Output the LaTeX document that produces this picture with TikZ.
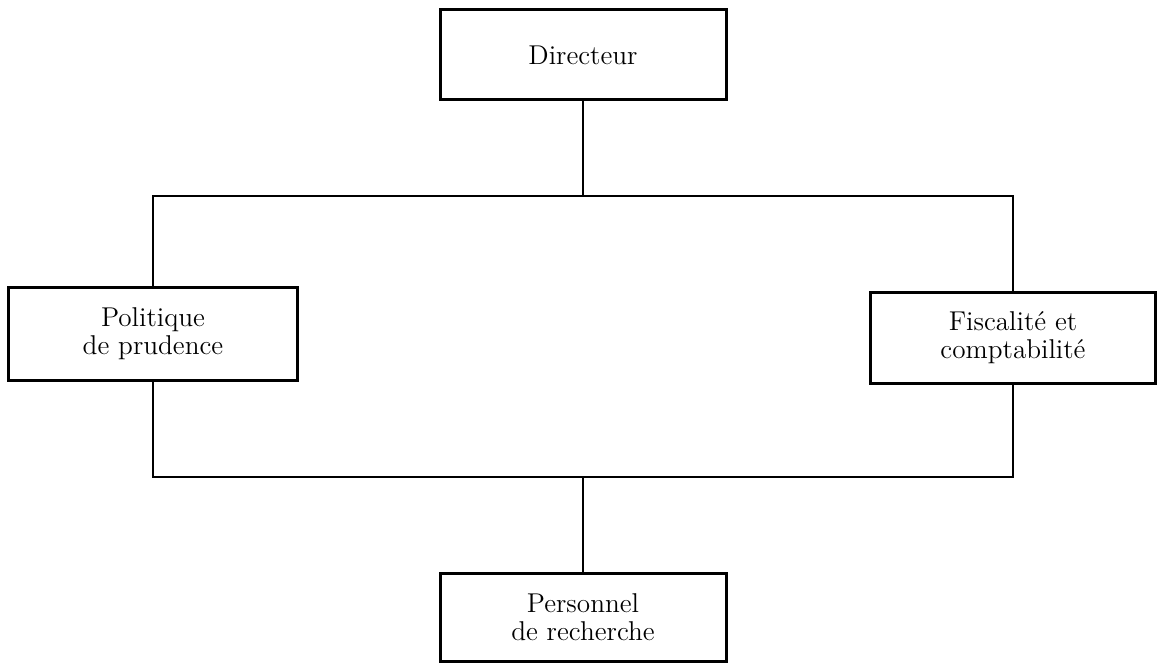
\documentclass[tikz,border=0pt]{standalone}
\begin{document}
\begin{tikzpicture}[x=0.5pt,y=-0.5pt,
  unit/.style={draw, line width=1.5pt, inner sep=0pt, align=center,
    font=\fontsize{13.6}{14}\selectfont},
  wire/.style={line width=1.4pt}]
  \useasboundingbox (0,0) rectangle (1162,663);
  % boxes
  \node[unit, minimum width=143pt, minimum height=45pt] (dir) at (583,55) {Directeur};
  \node[unit, minimum width=144.5pt, minimum height=46pt] (pol) at (153,334) {Politique\\de prudence};
  \node[unit, minimum width=142.5pt, minimum height=45pt] (fis) at (1013,338) {Fiscalit\'e et\\comptabilit\'e};
  \node[unit, minimum width=143pt, minimum height=44pt] (per) at (583,617) {Personnel\\de recherche};
  % junction points of the two bus lines
  \coordinate (top) at (583,196);
  \coordinate (bot) at (583,477);
  % connectors
  \draw[wire] (dir.south) -- (top);
  \draw[wire] (pol.north) |- (top) -| (fis.north);
  \draw[wire] (pol.south) |- (bot) -| (fis.south);
  \draw[wire] (bot) -- (per.north);
\end{tikzpicture}
\end{document}
